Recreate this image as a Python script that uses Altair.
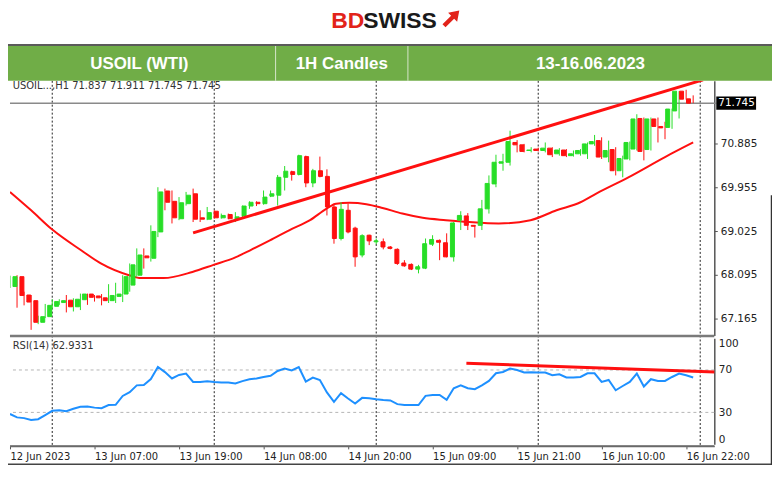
import json
import altair as alt
import pandas as pd

# ---------------- data (bar index 0 = 12 Jun 18:00 ... 97 = 16 Jun 23:00) ----------------
opens = [67.85, 68.06, 67.67, 67.55, 67.09, 67.21, 67.43, 67.51, 67.56, 67.42,
         67.57, 67.69, 67.65, 67.61, 67.55, 67.64, 67.69, 67.88, 68.09, 68.50,
         68.45, 69.01, 69.88, 69.66, 69.29, 69.61, 69.82, 69.31, 69.28, 69.45,
         69.31, 69.38, 69.28, 69.35, 69.56, 69.64, 69.61, 69.77, 69.79, 70.17,
         70.29, 70.23, 70.61, 70.05, 70.31, 70.19, 69.54, 68.87, 69.47, 69.09,
         68.52, 68.94, 68.80, 68.80, 68.69, 68.64, 68.35, 68.32, 68.22, 68.24,
         68.75, 68.83, 68.78, 68.48, 69.26, 69.35, 69.15, 69.15, 69.50, 70.03,
         70.47, 70.49, 70.91, 70.86, 70.74, 70.77, 70.74, 70.79, 70.67, 70.75,
         70.63, 70.67, 70.67, 70.88, 70.95, 70.60, 70.76, 70.31, 70.56, 70.77,
         71.42, 70.76, 71.41, 71.25, 71.23, 71.58, 72.00, 71.837]
highs = [68.08, 68.09, 67.74, 67.67, 67.23, 67.48, 67.58, 67.58, 67.67, 67.60,
         67.70, 67.70, 67.67, 67.69, 67.90, 67.93, 68.09, 68.34, 68.66, 68.66,
         69.15, 69.96, 69.93, 69.89, 69.75, 69.86, 69.93, 69.47, 69.54, 69.47,
         69.40, 69.40, 69.43, 69.57, 69.66, 69.66, 69.89, 69.89, 70.22, 70.41,
         70.31, 70.65, 70.63, 70.35, 70.61, 70.34, 69.61, 69.64, 69.61, 69.12,
         68.96, 68.95, 68.87, 68.87, 68.71, 68.66, 68.41, 68.34, 68.31, 68.87,
         68.94, 68.85, 68.98, 69.22, 69.45, 69.41, 69.15, 69.69, 70.21, 70.65,
         70.67, 71.16, 70.96, 70.88, 70.81, 70.80, 70.91, 70.81, 70.79, 70.77,
         70.74, 70.77, 70.91, 71.07, 71.02, 70.95, 70.81, 70.63, 70.93, 71.51,
         71.44, 71.44, 71.44, 71.35, 71.63, 72.00, 72.03, 71.911]
lows = [67.82, 67.40, 67.45, 66.93, 67.05, 67.18, 67.38, 67.46, 67.30, 67.32,
        67.35, 67.46, 67.53, 67.45, 67.50, 67.50, 67.52, 67.74, 68.06, 68.23,
        68.38, 68.90, 69.47, 69.19, 69.26, 69.57, 69.22, 69.22, 69.26, 69.29,
        69.29, 69.28, 69.22, 69.29, 69.50, 69.56, 69.59, 69.75, 69.57, 69.89,
        70.10, 70.21, 69.96, 69.96, 70.17, 69.36, 68.76, 68.83, 68.98, 68.27,
        68.47, 68.73, 68.75, 68.64, 68.64, 68.31, 68.27, 68.20, 68.13, 68.22,
        68.71, 68.41, 68.47, 68.38, 69.05, 69.05, 68.89, 69.05, 69.40, 69.96,
        70.31, 70.42, 70.70, 70.70, 70.70, 70.72, 70.70, 70.60, 70.63, 70.60,
        70.61, 70.63, 70.56, 70.84, 70.56, 70.49, 70.21, 70.17, 70.53, 70.74,
        70.53, 70.74, 70.91, 70.98, 71.20, 71.42, 71.82, 71.745]
closes = [68.06, 67.66, 67.52, 67.09, 67.21, 67.45, 67.53, 67.55, 67.42, 67.58,
          67.69, 67.62, 67.61, 67.55, 67.66, 67.69, 68.06, 68.31, 68.52, 68.46,
          69.02, 69.86, 69.64, 69.31, 69.63, 69.79, 69.28, 69.28, 69.42, 69.31,
          69.36, 69.29, 69.33, 69.56, 69.64, 69.61, 69.75, 69.82, 70.17, 70.30,
          70.23, 70.63, 70.05, 70.31, 70.19, 69.54, 68.87, 69.49, 69.01, 68.48,
          68.93, 68.82, 68.82, 68.69, 68.66, 68.34, 68.29, 68.22, 68.27, 68.76,
          68.85, 68.79, 68.48, 69.20, 69.36, 69.15, 69.13, 69.50, 70.04, 70.49,
          70.50, 70.93, 70.86, 70.72, 70.75, 70.74, 70.79, 70.65, 70.75, 70.63,
          70.67, 70.74, 70.88, 70.93, 70.60, 70.74, 70.31, 70.57, 70.91, 71.41,
          70.72, 71.41, 71.25, 71.22, 71.62, 72.00, 71.83, 71.745]
rsi_values = [28.5, 25.3, 24.6, 22.8, 23.6, 27.5, 31.5, 32.0, 31.2, 33.5,
              35.3, 35.6, 34.5, 34.0, 36.9, 37.1, 45.5, 49.0, 55.5, 55.9,
              61.5, 72.8, 68.0, 62.0, 65.3, 66.6, 58.7, 58.7, 59.4, 58.6,
              58.2, 58.2, 57.2, 59.5, 61.3, 61.9, 63.4, 64.5, 69.1, 71.3,
              69.5, 72.8, 59.1, 62.9, 60.6, 48.8, 40.0, 48.1, 43.1, 38.4,
              43.7, 43.4, 42.5, 41.8, 41.3, 37.8, 36.9, 36.9, 36.9, 45.6,
              46.5, 46.5, 41.8, 52.8, 55.6, 52.8, 51.9, 55.5, 59.7, 66.9,
              68.1, 71.3, 70.0, 67.6, 67.8, 67.6, 67.6, 65.1, 66.0, 62.9,
              62.9, 63.4, 66.9, 66.9, 58.7, 60.6, 50.9, 54.9, 58.7, 66.6,
              54.4, 61.3, 59.7, 59.7, 63.4, 66.6, 65.1, 62.93]

ma_idx = [0.0, 3.0, 6.0, 10.1, 12.9, 16.9, 18.6, 21.8, 25.9, 28.9, 32.0, 34.1, 36.9,
          39.7, 42.6, 44.9, 46.3, 48.2, 50.6, 52.9, 55.7, 58.6, 61.9, 65.2, 69.4,
          73.9, 77.6, 81.0, 83.3, 87.8, 93.0, 97.0]
ma_val = [69.86, 69.47, 69.06, 68.62, 68.34, 68.09, 68.03, 68.03, 68.16, 68.31, 68.47,
          68.62, 68.83, 69.05, 69.26, 69.50, 69.61, 69.63, 69.60, 69.52, 69.40, 69.31,
          69.26, 69.22, 69.19, 69.26, 69.47, 69.64, 69.83, 70.17, 70.60, 70.91]

trend_idx = [26.0, 98.4]
trend_val = [68.99, 72.24]
rsi_trend_idx = [64.8, 100.2]
rsi_trend_val = [76.3, 68.1]

separators = [6, 29, 52, 75, 98]
time_tick_idx = [0, 12, 24, 36, 48, 60, 72, 84, 96]
time_labels = ["12 Jun 2023", "13 Jun 07:00", "13 Jun 19:00", "14 Jun 08:00",
               "14 Jun 20:00", "15 Jun 09:00", "15 Jun 21:00", "16 Jun 10:00",
               "16 Jun 22:00"]
price_ticks = [67.165, 68.095, 69.025, 69.955, 70.885]
last_price = 71.745
rsi_ticks = [0, 30, 70, 100]
rsi_levels = [30, 70]
header_labels = ["USOIL (WTI)", "1H Candles", "13-16.06.2023"]
info_text = "USOIL...,H1  71.837 71.911 71.745 71.745"
rsi_text = "RSI(14) 62.9331"

GREEN = "#27DE27"
RED = "#FF1010"
BLUE = "#1E90FF"
W, H = 708, 367

# ---------------- frames ----------------
candles = pd.DataFrame({"idx": list(range(len(opens))), "open": opens, "high": highs,
                        "low": lows, "close": closes})
candles["dir"] = ["up" if c >= o else "down" for o, c in zip(opens, closes)]
rsi_df = pd.DataFrame({"idx": list(range(len(rsi_values))), "rsi": rsi_values})
ma_df = pd.DataFrame({"idx": ma_idx, "val": ma_val})
trend_df = pd.DataFrame({"idx": trend_idx, "val": trend_val})
rsi_trend_df = pd.DataFrame({"idx": rsi_trend_idx, "val": rsi_trend_val})
sep_df = pd.DataFrame({"sep": separators})
last_df = pd.DataFrame({"price": [last_price], "label": [f"{last_price:.3f}"]})
lvl_df = pd.DataFrame({"lvl": rsi_levels})
pt_df = pd.DataFrame({"p": price_ticks})
rt_df = pd.DataFrame({"r": rsi_ticks})
tt_df = pd.DataFrame({"t": time_tick_idx})
one = pd.DataFrame({"k": [0]})

xs = alt.Scale(domain=[0, 100], nice=False, zero=False)
ps = alt.Scale(domain=[66.81, 72.22], range=[256, 0], nice=False, zero=False)
rs = alt.Scale(domain=[0, 100], range=[365.3, 258.7], nice=False, zero=False)
cs = alt.Scale(domain=["up", "down"], range=[GREEN, RED])

label_expr = f"{json.dumps(time_labels)}[indexof({json.dumps(time_tick_idx)}, datum.value)]"
x_axis = alt.Axis(orient="bottom", values=time_tick_idx, labelExpr=label_expr,
                  labelAlign="left", labelBaseline="top", labelPadding=3, tickSize=3,
                  labelFontSize=10, labelFont="DejaVu Sans", labelColor="#222222",
                  domainColor="#6a6a6a", domainWidth=1.5, tickColor="#555555",
                  labelFlush=False, labelOverlap=False, grid=False, title="")
price_axis = alt.Axis(orient="right", values=price_ticks, format=".3f", tickSize=3,
                      labelPadding=3, labelFontSize=10.5, labelFont="DejaVu Sans",
                      labelColor="#222222", domainColor="#555555", domainWidth=1.5,
                      tickColor="#555555", grid=False, title="", labelFlush=False)
rsi_axis = alt.Axis(orient="right", values=rsi_ticks, tickSize=0, labelPadding=4,
                    labelFontSize=10.5, labelFont="DejaVu Sans", labelColor="#222222",
                    domainColor="#555555", domainWidth=1.5, grid=False, title="",
                    labelFlush=False,
                    labelBaseline={"condition": [{"test": "datum.value == 100", "value": "top"},
                                                 {"test": "datum.value == 0", "value": "bottom"}],
                                   "value": "middle"})

# ---------------- axis carrier layers (invisible marks) ----------------
x_axis_layer = alt.Chart(tt_df).mark_tick(opacity=0).encode(
    x=alt.X("t:Q", scale=xs, axis=x_axis))
price_axis_layer = alt.Chart(pt_df).mark_tick(opacity=0).encode(
    y=alt.Y("p:Q", scale=ps, axis=price_axis))
rsi_axis_layer = alt.Chart(rt_df).mark_tick(opacity=0).encode(
    y=alt.Y("r:Q", scale=rs, axis=rsi_axis))

# ---------------- price panel ----------------
price_line = alt.Chart(last_df).mark_rule(color="#8a8a8a", strokeWidth=1.5).encode(
    y=alt.Y("price:Q", scale=ps, axis=None), x=alt.value(0), x2=alt.value(710))
wicks = alt.Chart(candles).mark_rule(strokeWidth=1, clip=True).encode(
    x=alt.X("idx:Q", scale=xs, axis=None),
    y=alt.Y("low:Q", scale=ps, axis=None), y2="high:Q",
    color=alt.Color("dir:N", scale=cs, legend=None))
bodies = alt.Chart(candles).mark_bar(size=4, strokeWidth=1, clip=True).encode(
    x=alt.X("idx:Q", scale=xs, axis=None),
    y=alt.Y("open:Q", scale=ps, axis=None), y2="close:Q",
    fill=alt.Fill("dir:N", scale=cs, legend=None),
    stroke=alt.Stroke("dir:N", scale=cs, legend=None))
ma_line = alt.Chart(ma_df).mark_line(color=RED, strokeWidth=2, interpolate="monotone",
                                     clip=True).encode(
    x=alt.X("idx:Q", scale=xs, axis=None), y=alt.Y("val:Q", scale=ps, axis=None))
trend_line = alt.Chart(trend_df).mark_line(color=RED, strokeWidth=3, clip=True).encode(
    x=alt.X("idx:Q", scale=xs, axis=None), y=alt.Y("val:Q", scale=ps, axis=None))
price_box = alt.Chart(last_df).transform_calculate(
    top="datum.price + 0.14", bot="datum.price - 0.14").mark_rect(color="#000000").encode(
    y=alt.Y("top:Q", scale=ps, axis=None), y2="bot:Q", x=alt.value(710), x2=alt.value(750))
price_box_text = alt.Chart(last_df).mark_text(
    color="#ffffff", fontSize=10.5, font="DejaVu Sans", align="left", baseline="middle").encode(
    y=alt.Y("price:Q", scale=ps, axis=None), x=alt.value(712), text="label:N")
main_bottom = alt.Chart(one).mark_rule(color="#7a7a7a", strokeWidth=2.5).encode(
    y=alt.value(256.5), x=alt.value(0), x2=alt.value(W))
panel_bottom = alt.Chart(one).mark_rule(color="#6a6a6a", strokeWidth=1.5).encode(
    y=alt.value(H), x=alt.value(0), x2=alt.value(W))

# ---------------- RSI panel ----------------
rsi_grid = alt.Chart(lvl_df).mark_rule(color="#b4b4b4", strokeDash=[3, 3], strokeWidth=1).encode(
    y=alt.Y("lvl:Q", scale=rs, axis=None))
rsi_line = alt.Chart(rsi_df).mark_line(color=BLUE, strokeWidth=2, clip=True).encode(
    x=alt.X("idx:Q", scale=xs, axis=None), y=alt.Y("rsi:Q", scale=rs, axis=None))
rsi_trend = alt.Chart(rsi_trend_df).mark_line(color=RED, strokeWidth=3, clip=True).encode(
    x=alt.X("idx:Q", scale=xs, axis=None), y=alt.Y("val:Q", scale=rs, axis=None))

# ---------------- decorations ----------------
seps = alt.Chart(sep_df).mark_rule(color="#222222", strokeDash=[2, 2], strokeWidth=1).encode(
    x=alt.X("sep:Q", scale=xs, axis=None), y=alt.value(0), y2=alt.value(H))
info = alt.Chart(one).mark_text(align="left", baseline="middle", fontSize=10,
                                font="DejaVu Sans", color="#333333").encode(
    x=alt.value(2.7), y=alt.value(5.5), text=alt.value(info_text))
rsi_info = alt.Chart(one).mark_text(align="left", baseline="middle", fontSize=10,
                                    font="DejaVu Sans", color="#333333").encode(
    x=alt.value(2.7), y=alt.value(267), text=alt.value(rsi_text))

band = alt.Chart(one).mark_rect(color="#70AD47").encode(
    x=alt.value(-2), x2=alt.value(767), y=alt.value(-36), y2=alt.value(0))
band_top = alt.Chart(one).mark_rule(color="#5a5a5a", strokeWidth=2).encode(
    x=alt.value(-2), x2=alt.value(767), y=alt.value(-36))
div1 = alt.Chart(one).mark_rule(color="#d8e6cc", strokeWidth=1).encode(
    x=alt.value(267), y=alt.value(-35), y2=alt.value(0))
div2 = alt.Chart(one).mark_rule(color="#d8e6cc", strokeWidth=1).encode(
    x=alt.value(400), y=alt.value(-35), y2=alt.value(0))
head_style = dict(color="#ffffff", fontSize=17, font="Liberation Sans", fontWeight="bold",
                  align="center", baseline="middle")
h1 = alt.Chart(one).mark_text(**head_style).encode(
    x=alt.value(130), y=alt.value(-17), text=alt.value(header_labels[0]))
h2 = alt.Chart(one).mark_text(**head_style).encode(
    x=alt.value(333.5), y=alt.value(-17), text=alt.value(header_labels[1]))
h3 = alt.Chart(one).mark_text(**head_style).encode(
    x=alt.value(583.5), y=alt.value(-17), text=alt.value(header_labels[2]))

logo_bd = alt.Chart(one).mark_text(color="#E2231A", fontSize=23, font="Liberation Sans",
                                   fontWeight="bold", align="left", baseline="middle").encode(
    x=alt.value(323), y=alt.value(-60), text=alt.value("BD"))
logo_sw = alt.Chart(one).mark_text(color="#1a1a1a", fontSize=23, font="Liberation Sans",
                                   fontWeight="bold", align="left", baseline="middle").encode(
    x=alt.value(355), y=alt.value(-60), text=alt.value("SWISS"))
arrow_path = "M 1 -1 L -0.3 -0.75 L 0.05 -0.4 L -0.95 0.6 L -0.6 0.95 L 0.4 -0.05 L 0.75 0.3 Z"
logo_arrow = alt.Chart(one).mark_point(shape=arrow_path, filled=True, color="#E2231A",
                                       size=300, opacity=1).encode(
    x=alt.value(443), y=alt.value(-62))

bottom_border = alt.Chart(one).mark_rule(color="#444444", strokeWidth=1.5).encode(
    x=alt.value(-2), x2=alt.value(767), y=alt.value(385.5))
right_border = alt.Chart(one).mark_rule(color="#333333", strokeWidth=1.5).encode(
    x=alt.value(765.5), y=alt.value(115), y2=alt.value(386))

chart = alt.layer(
    x_axis_layer, price_axis_layer, rsi_axis_layer,
    info, rsi_info, seps,
    price_line, ma_line, wicks, bodies, trend_line, price_box, price_box_text,
    main_bottom, panel_bottom, rsi_grid, rsi_line, rsi_trend,
    band, band_top, div1, div2, h1, h2, h3, logo_bd, logo_sw, logo_arrow,
    bottom_border, right_border
).resolve_scale(x="independent", y="independent").properties(
    width=W, height=H,
    padding={"left": 2, "top": 72, "right": 58, "bottom": 19},
    autosize=alt.AutoSizeParams(type="none"),
).configure_view(strokeWidth=0)

chart.save("out.html", embed_options={"renderer": "svg", "actions": False})
